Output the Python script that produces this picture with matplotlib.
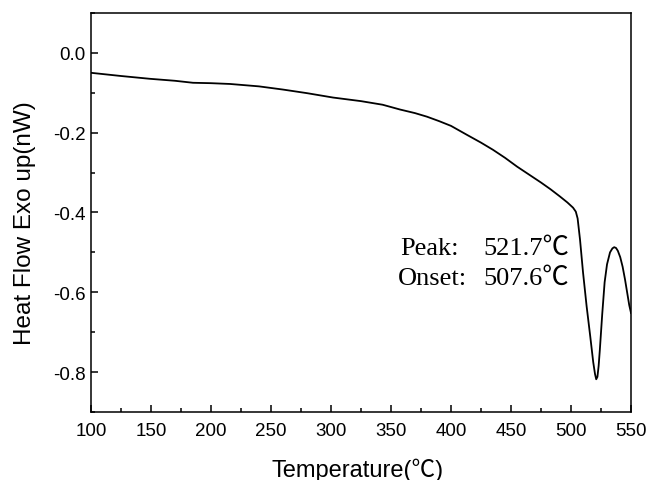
import matplotlib
matplotlib.use('Agg')
import matplotlib.pyplot as plt
from matplotlib.ticker import MultipleLocator

# DSC curve
temperature = [100, 125, 149, 170, 185, 200, 216, 240, 260, 280, 301.7, 325, 343, 357.5,
               370, 380, 390, 400, 413, 425, 435, 445, 455, 465, 475, 483, 490.8, 497,
               501.7, 504, 505.5, 507.5, 510, 513, 516, 518.5, 520, 521, 522, 523, 524,
               526, 528, 530, 532.5, 534.5, 536, 537.5, 539, 541, 543, 545, 548.5, 550]
heat_flow = [-0.050, -0.058, -0.065, -0.070, -0.075, -0.076, -0.078, -0.084, -0.092, -0.101,
             -0.112, -0.121, -0.130, -0.142, -0.151, -0.160, -0.171, -0.183, -0.205, -0.225,
             -0.243, -0.263, -0.285, -0.305, -0.325, -0.342, -0.360, -0.375, -0.388, -0.398,
             -0.415, -0.468, -0.550, -0.635, -0.710, -0.775, -0.805, -0.818, -0.812, -0.785,
             -0.745, -0.655, -0.575, -0.530, -0.500, -0.490, -0.487, -0.489, -0.496, -0.512,
             -0.536, -0.568, -0.632, -0.652]

peak_name, peak_value = 'Peak:', '521.7℃'
onset_name, onset_value = 'Onset:', '507.6℃'

fig = plt.figure(figsize=(6.48, 4.81), dpi=100)
ax = fig.add_axes([0.1404, 0.1414, 0.8334, 0.8296])

ax.plot(temperature, heat_flow, color='black', linewidth=1.3)

ax.set_xlim(100, 550)
ax.set_ylim(-0.9, 0.1)
ax.xaxis.set_major_locator(MultipleLocator(50))
ax.xaxis.set_minor_locator(MultipleLocator(25))
ax.yaxis.set_minor_locator(MultipleLocator(0.1))
ax.set_yticks([0.0, -0.2, -0.4, -0.6, -0.8])
ax.set_yticklabels(['0.0', '-0.2', '-0.4', '-0.6', '-0.8'])

ax.tick_params(which='both', direction='in', top=False, right=False, labelsize=13.5)
ax.tick_params(which='major', length=5, width=1.1)
ax.tick_params(which='minor', length=3, width=1.1)
ax.tick_params(axis='x', pad=7.5)
ax.tick_params(axis='y', pad=4)
for label in ax.get_xticklabels() + ax.get_yticklabels():
    label.set_family(['Liberation Sans', 'DejaVu Sans'])
for s in ax.spines.values():
    s.set_linewidth(1.1)

ax.set_xlabel('Temperature(℃)', fontsize=17, family=['Liberation Sans', 'Noto Sans CJK SC'])
ax.set_ylabel('Heat Flow Exo up(nW)', fontsize=17.5, family=['Liberation Sans', 'DejaVu Sans'])
ax.xaxis.set_label_coords(0.494, -0.115)
ax.yaxis.set_label_coords(-0.102, 0.477)

serif = ['Liberation Serif', 'Noto Sans CJK SC']
ax.text(0.572, 0.396, peak_name, transform=ax.transAxes, fontsize=19, family=serif, va='baseline')
ax.text(0.726, 0.396, peak_value, transform=ax.transAxes, fontsize=19, family=serif, va='baseline')
ax.text(0.5685, 0.321, onset_name, transform=ax.transAxes, fontsize=19, family=serif, va='baseline')
ax.text(0.726, 0.321, onset_value, transform=ax.transAxes, fontsize=19, family=serif, va='baseline')

fig.savefig('out.png', dpi=100)
